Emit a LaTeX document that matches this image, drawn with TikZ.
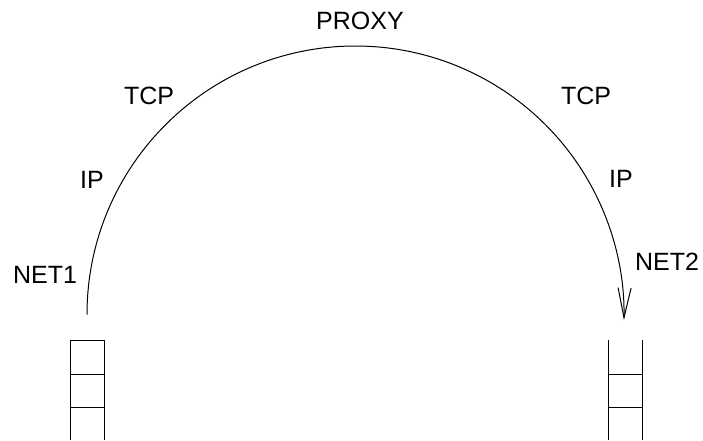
\documentclass[tikz,border=0pt]{standalone}
\usepackage{fontspec}
\setmainfont{Liberation Sans}
\usetikzlibrary{arrows.meta}
\begin{document}
\begin{tikzpicture}[x=1pt,y=-1pt,line width=1pt,
  lbl/.style={font=\fontsize{25}{30}\selectfont,inner sep=0pt,anchor=center},
  flow/.style={-{Straight Barb[length=30pt,width=13pt]}}]
\useasboundingbox (0,0) rectangle (703,440);
% labels
\node[lbl] (proxy) at (360,21) {PROXY};
\node[lbl] (tcpl) at (149,96) {TCP};
\node[lbl] (tcpr) at (586,96) {TCP};
\node[lbl] (ipl) at (92,180) {IP};
\node[lbl] (ipr) at (621,179) {IP};
\node[lbl] (net1) at (45,275) {NET1};
\node[lbl] (net2) at (667,262) {NET2};
% arc
\coordinate (start) at (87,314.5);
\draw[flow] (start) arc[start angle=180,end angle=-1.2,radius=268.5pt];
% left stack
\coordinate (l0) at (70,440);
\coordinate (l1) at (70,340);
\coordinate (l2) at (104,340);
\coordinate (l3) at (104,440);
\draw (l0) -- (l1) -- (l2) -- (l3);
\draw (70,374) -- (104,374);
\draw (70,407) -- (104,407);
% right stack
\draw (608,340) -- (608,440);
\draw (642,340) -- (642,440);
\draw (608,374) -- (642,374);
\draw (608,407) -- (642,407);
\end{tikzpicture}
\end{document}
